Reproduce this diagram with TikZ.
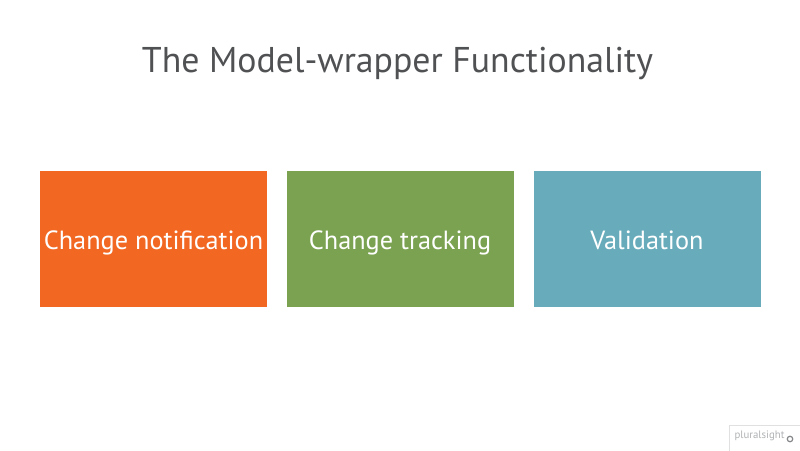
\documentclass[tikz,border=0pt]{standalone}
\usepackage{fontspec}
\setmainfont{PT Sans}
\definecolor{orangebox}{HTML}{F26722}
\definecolor{greenbox}{HTML}{7AA250}
\definecolor{bluebox}{HTML}{68ACBB}
\definecolor{titlegrey}{HTML}{4F5153}
\definecolor{logogrey}{HTML}{B0B2B4}
\definecolor{ringgrey}{HTML}{85878A}
\tikzset{
  panel/.style={draw=none,minimum width=227pt,minimum height=136pt,inner sep=0pt,anchor=north west},
  paneltext/.style={text=white,font=\fontsize{26.3}{28}\selectfont,inner sep=0pt,text height=18pt,text depth=5pt},
  titletext/.style={text=titlegrey,font=\fontsize{35.8}{40}\selectfont,inner sep=0pt},
  badge/.style={draw=black!12,fill=white,inner sep=0pt,minimum width=72pt,minimum height=26pt,anchor=north west},
  logotext/.style={text=logogrey,font=\fontsize{10.8}{12}\selectfont,inner sep=0pt},
  ring/.style={circle,draw=ringgrey,line width=1.2pt,minimum size=5.5pt,inner sep=0pt}
}
\begin{document}
\begin{tikzpicture}[x=1pt,y=-1pt]
\useasboundingbox[fill=white] (0,0) rectangle (800,450);
\node[titletext] (title) at (397.5,63.5) {The Model-wrapper Functionality};
\node[panel,fill=orangebox] (a) at (40,171) {};
\node[panel,fill=greenbox] (b) at (287,171) {};
\node[panel,fill=bluebox] (c) at (534,171) {};
\node[paneltext] (at) at (153.5,243) {Change notification};
\node[paneltext] (bt) at (400,243) {Change tracking};
\node[paneltext] (ct) at (647,243) {Validation};
\node[badge] (d) at (729,425) {};
\node[logotext] (e) at (759.5,436) {pluralsight};
\node[ring] (f) at (790,439) {};
\end{tikzpicture}
\end{document}
